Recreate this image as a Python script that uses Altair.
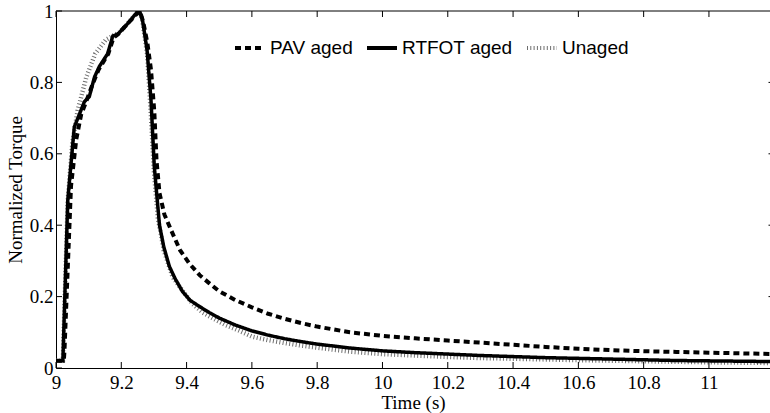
import altair as alt
import pandas as pd

# ---- data ----
series_names = ["PAV aged", "RTFOT aged", "Unaged"]

pav_t = [9.0, 9.024, 9.026, 9.036, 9.046, 9.062, 9.077, 9.092, 9.11, 9.13, 9.16, 9.176, 9.19,
         9.215, 9.24, 9.257, 9.267, 9.28, 9.291, 9.301, 9.308, 9.317, 9.332, 9.357, 9.38, 9.408,
         9.44, 9.47, 9.5, 9.55, 9.6, 9.65, 9.7, 9.75, 9.8, 9.9, 10.0, 10.1, 10.2, 10.3, 10.4,
         10.5, 10.6, 10.7, 10.8, 10.9, 11.0, 11.1, 11.2]
pav_v = [0.02, 0.02, 0.05, 0.28, 0.51, 0.64, 0.71, 0.745, 0.79, 0.835, 0.88, 0.925, 0.935,
         0.96, 0.985, 1.0, 0.97, 0.91, 0.835, 0.72, 0.58, 0.49, 0.43, 0.377, 0.33, 0.293,
         0.26, 0.237, 0.215, 0.19, 0.17, 0.152, 0.138, 0.126, 0.116, 0.1, 0.09, 0.083, 0.077,
         0.071, 0.065, 0.059, 0.054, 0.05, 0.047, 0.045, 0.043, 0.041, 0.039]

rtfot_t = [9.0, 9.021, 9.036, 9.056, 9.067, 9.087, 9.102, 9.118, 9.133, 9.158, 9.174, 9.189,
           9.215, 9.25, 9.256, 9.265, 9.279, 9.291, 9.301, 9.317, 9.33, 9.347, 9.365, 9.387,
           9.41, 9.44, 9.47, 9.5, 9.55, 9.6, 9.65, 9.7, 9.75, 9.8, 9.9, 10.0, 10.1, 10.2,
           10.3, 10.4, 10.5, 10.6, 10.7, 10.8, 10.9, 11.0, 11.1, 11.2]
rtfot_v = [0.02, 0.02, 0.47, 0.675, 0.70, 0.746, 0.76, 0.815, 0.845, 0.88, 0.93, 0.935,
           0.96, 0.998, 1.0, 0.975, 0.89, 0.75, 0.565, 0.4, 0.34, 0.285, 0.25, 0.215,
           0.19, 0.172, 0.155, 0.14, 0.12, 0.104, 0.092, 0.082, 0.074, 0.067, 0.056, 0.048,
           0.043, 0.039, 0.035, 0.032, 0.029, 0.027, 0.025, 0.023, 0.021, 0.02, 0.019, 0.018]

unaged_t = [9.0, 9.021, 9.036, 9.05, 9.066, 9.093, 9.12, 9.153, 9.194, 9.215, 9.25, 9.256,
            9.265, 9.279, 9.29, 9.3, 9.312, 9.33, 9.357, 9.385, 9.418, 9.45, 9.479, 9.52,
            9.56, 9.6, 9.65, 9.7, 9.75, 9.8, 9.9, 10.0, 10.1, 10.2, 10.3, 10.4, 10.6, 10.8,
            11.0, 11.2]
unaged_v = [0.02, 0.02, 0.47, 0.63, 0.72, 0.815, 0.88, 0.92, 0.94, 0.96, 0.998, 1.0,
            0.97, 0.88, 0.72, 0.55, 0.42, 0.33, 0.255, 0.22, 0.18, 0.155, 0.14, 0.12,
            0.105, 0.088, 0.078, 0.07, 0.063, 0.057, 0.046, 0.039, 0.035, 0.031, 0.028,
            0.026, 0.022, 0.019, 0.016, 0.014]

x_ticks = [9, 9.2, 9.4, 9.6, 9.8, 10, 10.2, 10.4, 10.6, 10.8, 11]
y_ticks = [0, 0.2, 0.4, 0.6, 0.8, 1]

# ---- layout / style ----
W, H = 714, 357
X_MAX = 11.187
TICK = 6
SERIF = "Liberation Serif"
SANS = "Liberation Sans"
FS = 19

df = pd.concat([
    pd.DataFrame({"t": pav_t, "v": pav_v, "series": "PAV aged"}),
    pd.DataFrame({"t": rtfot_t, "v": rtfot_v, "series": "RTFOT aged"}),
    pd.DataFrame({"t": unaged_t, "v": unaged_v, "series": "Unaged"}),
], ignore_index=True)

xscale = alt.Scale(domain=[9, X_MAX], nice=False, zero=False)
yscale = alt.Scale(domain=[0, 1], nice=False, zero=False)
color_scale = alt.Scale(domain=series_names, range=["#000000", "#000000", "#6e6e6e"])
dash_scale = alt.Scale(domain=series_names, range=[[6, 4], [1, 0], [1, 2.3]])

legend = alt.Legend(
    title=None, orient="none", legendX=177, legendY=20, direction="horizontal",
    symbolType="stroke", symbolSize=900, symbolStrokeWidth=4,
    labelFont=SANS, labelFontSize=19, labelColor="black", labelOffset=3,
    columnPadding=6, padding=0,
)

x_axis = alt.Axis(
    values=x_ticks, labelExpr="'' + datum.value", title="Time (s)",
    ticks=False, tickSize=0, grid=False, domainColor="black", domainWidth=1,
    labelFont=SERIF, labelFontSize=FS, labelColor="black", labelPadding=5,
    titleFont=SERIF, titleFontSize=FS, titleFontWeight="normal", titleColor="black",
    titlePadding=1, labelFlush=False, labelOverlap=False,
)
y_axis = alt.Axis(
    values=y_ticks, labelExpr="'' + datum.value", title="Normalized Torque",
    ticks=False, tickSize=0, grid=False, domainColor="black", domainWidth=1,
    labelFont=SERIF, labelFontSize=FS, labelColor="black", labelPadding=3,
    titleFont=SERIF, titleFontSize=FS, titleFontWeight="normal", titleColor="black",
    titlePadding=4, labelFlush=False, labelOverlap=False,
)


def line_layer(name, width):
    return alt.Chart(df[df["series"] == name]).mark_line(
        strokeWidth=width, clip=True, strokeCap="butt", strokeJoin="miter"
    ).encode(
        x=alt.X("t:Q", scale=xscale, axis=x_axis),
        y=alt.Y("v:Q", scale=yscale, axis=y_axis),
        color=alt.Color("series:N", scale=color_scale, legend=legend),
        strokeDash=alt.StrokeDash("series:N", scale=dash_scale, legend=legend),
        order=alt.Order("t:Q"),
    )


unaged_layer = line_layer("Unaged", 4.5)
pav_layer = line_layer("PAV aged", 4)
rtfot_layer = line_layer("RTFOT aged", 3.5)

xt_df = pd.DataFrame({"t": x_ticks})
yt_df = pd.DataFrame({"v": y_ticks})

bottom_ticks = alt.Chart(xt_df).mark_rule(color="black", strokeWidth=1).encode(
    x=alt.X("t:Q", scale=xscale), y=alt.value(H), y2=alt.value(H - TICK))
top_ticks = alt.Chart(xt_df).mark_rule(color="black", strokeWidth=1).encode(
    x=alt.X("t:Q", scale=xscale), y=alt.value(0), y2=alt.value(TICK))
left_ticks = alt.Chart(yt_df).mark_rule(color="black", strokeWidth=1).encode(
    y=alt.Y("v:Q", scale=yscale), x=alt.value(0), x2=alt.value(TICK))
right_ticks = alt.Chart(yt_df[(yt_df["v"] > 0) & (yt_df["v"] < 1)]).mark_rule(
    color="black", strokeWidth=1).encode(
    y=alt.Y("v:Q", scale=yscale), x=alt.value(W - 1.5), x2=alt.value(W))
top_border = alt.Chart(xt_df.head(1)).mark_rule(color="black", strokeWidth=1).encode(
    y=alt.value(0), x=alt.value(0), x2=alt.value(W))

chart = alt.layer(
    unaged_layer, pav_layer, rtfot_layer,
    bottom_ticks, top_ticks, left_ticks, right_ticks, top_border,
).properties(
    width=W, height=H,
    autosize=alt.AutoSizeParams(type="none"),
    padding={"left": 56, "top": 11, "right": 0, "bottom": 45},
    background="white",
).configure_view(stroke=None)

chart.save("out.html", embed_options={"renderer": "svg", "actions": False})
